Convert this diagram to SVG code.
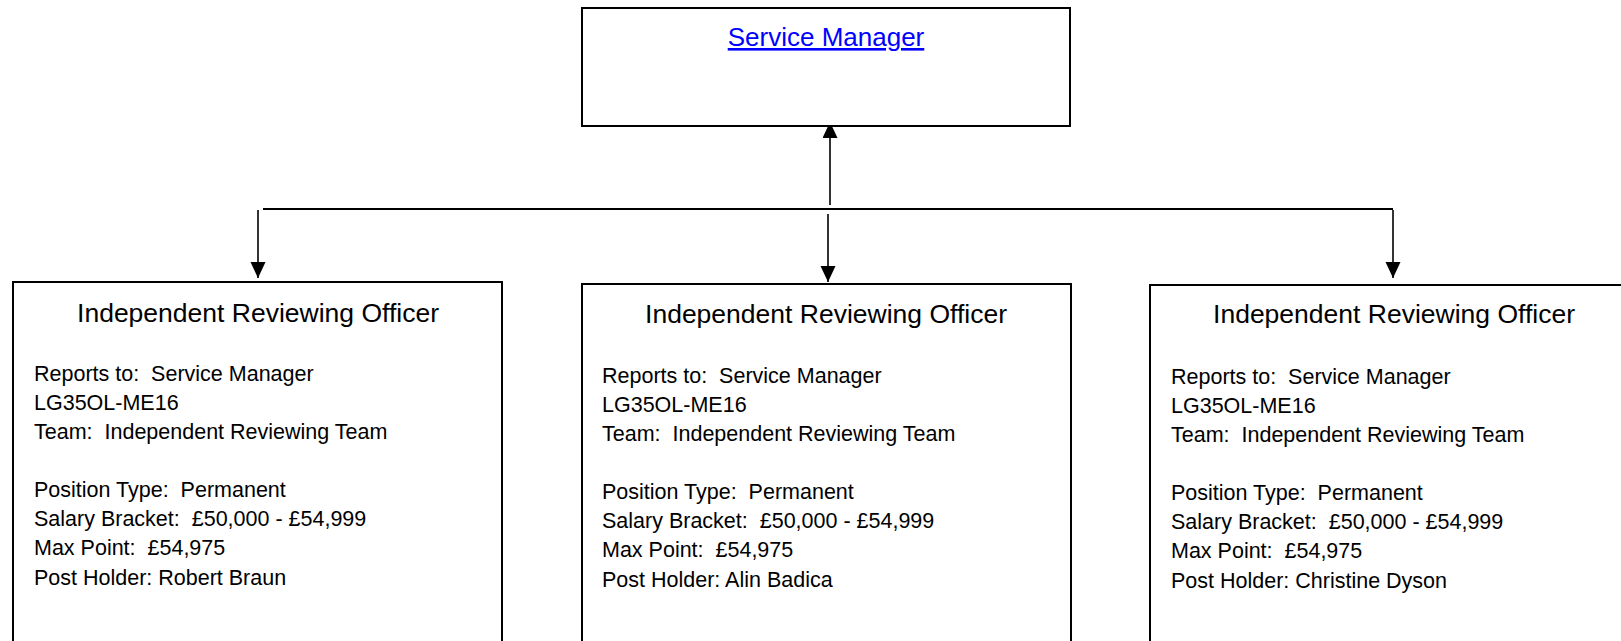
<svg xmlns="http://www.w3.org/2000/svg" width="1621" height="641" viewBox="0 0 1621 641" xml:space="preserve">
<style>
text{white-space:pre}
.box{fill:#ffffff;stroke:#000000;stroke-width:2}
.title{font-family:"Liberation Sans",Arial,sans-serif;font-size:26.5px;fill:#000000;text-anchor:middle}
.body{font-family:"Liberation Sans",Arial,sans-serif;font-size:21.5px;fill:#000000}
.link{font-family:"Liberation Sans",Arial,sans-serif;font-size:26px;fill:#0000ff;text-anchor:middle;text-decoration:underline}
.conn{stroke:#000000;stroke-width:1.6;fill:none}
.bar{stroke:#000000;stroke-width:2;fill:none}
</style>
<defs>
<marker id="arrow" markerUnits="userSpaceOnUse" markerWidth="16" markerHeight="16" refX="16" refY="7.5" orient="auto">
<path d="M0,0 L16,7.5 L0,15 Z" fill="#000000"/>
</marker>
</defs>
<rect width="1621" height="641" fill="#ffffff"/>
<g id="connectors">
<line class="conn" x1="830" y1="205" x2="830" y2="122" marker-end="url(#arrow)"/>
<line class="bar" x1="263" y1="209" x2="1393" y2="209"/>
<line class="conn" x1="258" y1="210" x2="258" y2="278" marker-end="url(#arrow)"/>
<line class="conn" x1="828" y1="214" x2="828" y2="282" marker-end="url(#arrow)"/>
<line class="conn" x1="1393" y1="210" x2="1393" y2="278" marker-end="url(#arrow)"/>
</g>
<g id="service-manager">
<rect class="box" x="582" y="8" width="488" height="118"/>
<text class="link" x="826" y="46">Service Manager</text>
</g>
<g id="iro-1">
<rect class="box" x="13" y="282" width="489" height="380"/>
<text class="title" x="258" y="322">Independent Reviewing Officer</text>
<text class="body" x="34" y="381">Reports to:  Service Manager</text>
<text class="body" x="34" y="410">LG35OL-ME16</text>
<text class="body" x="34" y="439">Team:  Independent Reviewing Team</text>
<text class="body" x="34" y="497">Position Type:  Permanent</text>
<text class="body" x="34" y="526">Salary Bracket:  £50,000 - £54,999</text>
<text class="body" x="34" y="555">Max Point:  £54,975</text>
<text class="body" x="34" y="585">Post Holder: Robert Braun</text>
</g>
<g id="iro-2">
<rect class="box" x="582" y="284" width="489" height="380"/>
<text class="title" x="826" y="323">Independent Reviewing Officer</text>
<text class="body" x="602" y="383">Reports to:  Service Manager</text>
<text class="body" x="602" y="412">LG35OL-ME16</text>
<text class="body" x="602" y="441">Team:  Independent Reviewing Team</text>
<text class="body" x="602" y="499">Position Type:  Permanent</text>
<text class="body" x="602" y="528">Salary Bracket:  £50,000 - £54,999</text>
<text class="body" x="602" y="557">Max Point:  £54,975</text>
<text class="body" x="602" y="587">Post Holder: Alin Badica</text>
</g>
<g id="iro-3">
<rect class="box" x="1150" y="285" width="489" height="380"/>
<text class="title" x="1394" y="323">Independent Reviewing Officer</text>
<text class="body" x="1171" y="384">Reports to:  Service Manager</text>
<text class="body" x="1171" y="413">LG35OL-ME16</text>
<text class="body" x="1171" y="442">Team:  Independent Reviewing Team</text>
<text class="body" x="1171" y="500">Position Type:  Permanent</text>
<text class="body" x="1171" y="529">Salary Bracket:  £50,000 - £54,999</text>
<text class="body" x="1171" y="558">Max Point:  £54,975</text>
<text class="body" x="1171" y="588">Post Holder: Christine Dyson</text>
</g>
</svg>
